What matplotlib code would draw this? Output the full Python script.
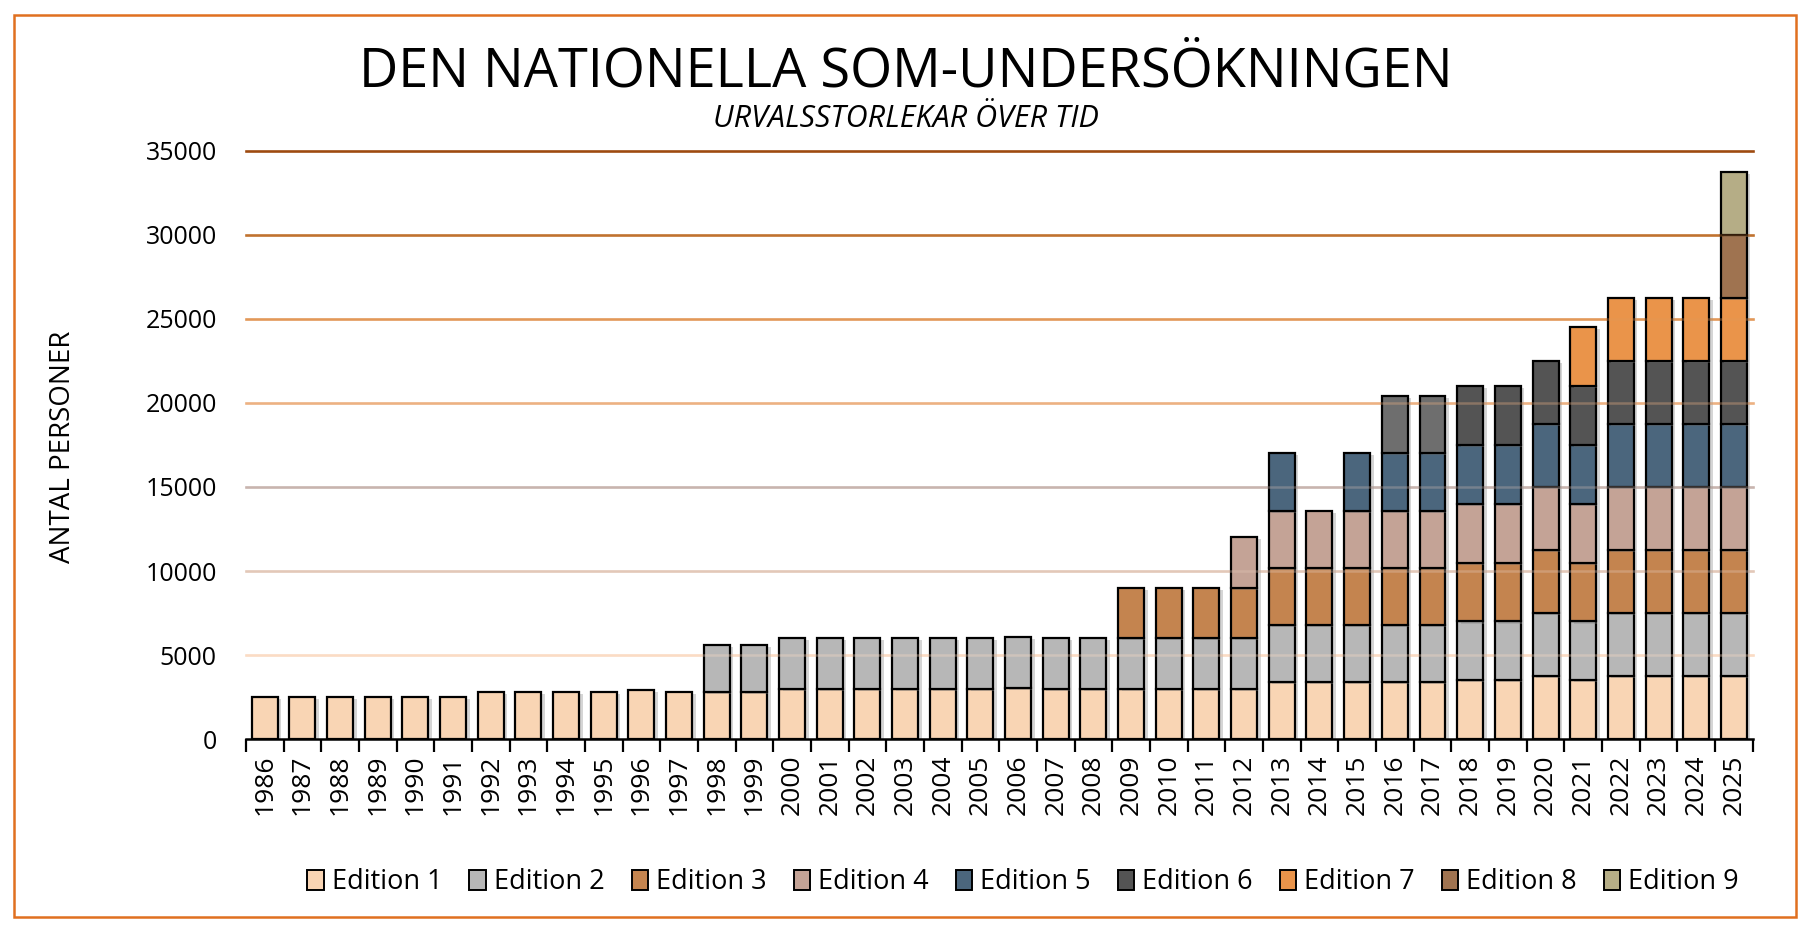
import matplotlib
matplotlib.use("Agg")
import matplotlib.pyplot as plt
import matplotlib.patheffects as pe
from matplotlib.patches import Rectangle
import numpy as np

plt.rcParams['font.family'] = ['Open Sans', 'DejaVu Sans']

years = list(range(1986, 2026))

# urvalsstorlek per edition och år
e1 = [2500]*6 + [2800]*4 + [2900, 2800] + [2800]*2 + [3000]*6 + [3050] + [3000]*2 + [3000]*3 + [3000] + [3400]*5 + [3500]*2 + [3750] + [3500] + [3750]*4
e2 = [0]*12 + [2800]*2 + [3000]*6 + [3050] + [3000]*2 + [3000]*3 + [3000] + [3400]*5 + [3500]*2 + [3750] + [3500] + [3750]*4
e3 = [0]*23 + [3000]*3 + [3000] + [3400]*5 + [3500]*2 + [3750] + [3500] + [3750]*4
e4 = [0]*26 + [3000] + [3400]*5 + [3500]*2 + [3750] + [3500] + [3750]*4
e5 = [0]*27 + [3400, 0, 3400, 3400, 3400] + [3500]*2 + [3750] + [3500] + [3750]*4
e6 = [0]*30 + [3400]*2 + [3500]*2 + [3750] + [3500] + [3750]*4
e7 = [0]*35 + [3500] + [3750]*4
e8 = [0]*39 + [3750]
e9 = [0]*39 + [3750]

editions = [e1, e2, e3, e4, e5, e6, e7, e8, e9]
labels = ["Edition %d" % (i+1) for i in range(9)]
colors = ["#F9D5B4", "#B7B7B7", "#C4844F", "#C4A396", "#4B667D",
          "#545454", "#EA944A", "#9F7350", "#B5AD86"]
e6_light = "#6E6E6E"   # 2016-2017 ser ljusare ut

grid_vals = [5000, 10000, 15000, 20000, 25000, 30000, 35000]
grid_cols = ["#FBDCC4", "#E3C8B8", "#C8B4AE", "#EDB182", "#E29858", "#C0722F", "#9E4A10"]

fig = plt.figure(figsize=(18.11, 9.26), dpi=100)
ax = fig.add_axes([0.1358, 0.2019, 0.832, 0.6351])

x = np.arange(len(years))
bottom = np.zeros(len(years))
shadow = [pe.SimplePatchShadow(offset=(2.5, -1.5), shadow_rgbFace="#888888", alpha=0.35), pe.Normal()]

for k, vals in enumerate(editions):
    vals = np.array(vals, dtype=float)
    idx = np.nonzero(vals)[0]
    fc = [colors[k]] * len(idx)
    if k == 5:
        fc = [e6_light if years[i] in (2016, 2017) else colors[k] for i in idx]
    bars = ax.bar(x[idx], vals[idx], bottom=bottom[idx], width=0.69, color=fc,
                  edgecolor="black", linewidth=1.6, zorder=2)
    for b in bars:
        b.set_path_effects(shadow)
    bottom += vals

# legend handles (without shadow)
handles = [Rectangle((0, 0), 1, 1, facecolor=c, edgecolor="black", linewidth=1.4) for c in colors]

for v, c in zip(grid_vals, grid_cols):
    ax.axhline(v, color=c, linewidth=1.8, zorder=0, clip_on=False)
    ax.axhline(v, color=c, linewidth=1.8, alpha=0.35, zorder=3, clip_on=False)

ax.set_xlim(-0.5, len(years) - 0.5)
ax.set_ylim(0, 35000)
ax.set_yticks(range(0, 35001, 5000))
ax.set_xticks(x)
ax.set_xticklabels([str(y) for y in years], rotation=90, fontsize=19)
ax.set_xticks(np.arange(-0.5, len(years), 1.0), minor=True)
ax.tick_params(axis='x', which='major', length=0, pad=11)
ax.tick_params(axis='x', which='minor', length=9, width=1.6, direction='out', color='black')
ax.tick_params(axis='y', length=0, pad=21, labelsize=18)

for s in ['left', 'right', 'top']:
    ax.spines[s].set_visible(False)
ax.spines['bottom'].set_linewidth(1.8)
ax.spines['bottom'].set_zorder(4)

fig.text(0.5, 0.9065, "DEN NATIONELLA SOM-UNDERSÖKNINGEN", ha='center', va='baseline', fontsize=39)
fig.text(0.5, 0.863, "URVALSSTORLEKAR ÖVER TID", ha='center', va='baseline', fontsize=22, style='italic')
fig.text(0.035, 0.518, "ANTAL PERSONER", rotation=90, ha='center', va='center', fontsize=20)

fig.legend(handles, labels, loc='center', bbox_to_anchor=(0.565, 0.047), ncol=9, frameon=False,
           fontsize=19.5, handlelength=0.6, handleheight=0.8, handletextpad=0.3, columnspacing=1.0)

fig.patches.append(Rectangle((0.0077, 0.0097), 0.984, 0.9741, transform=fig.transFigure,
                             fill=False, edgecolor="#E07020", linewidth=1.8))

fig.savefig("out.png", dpi=100)
